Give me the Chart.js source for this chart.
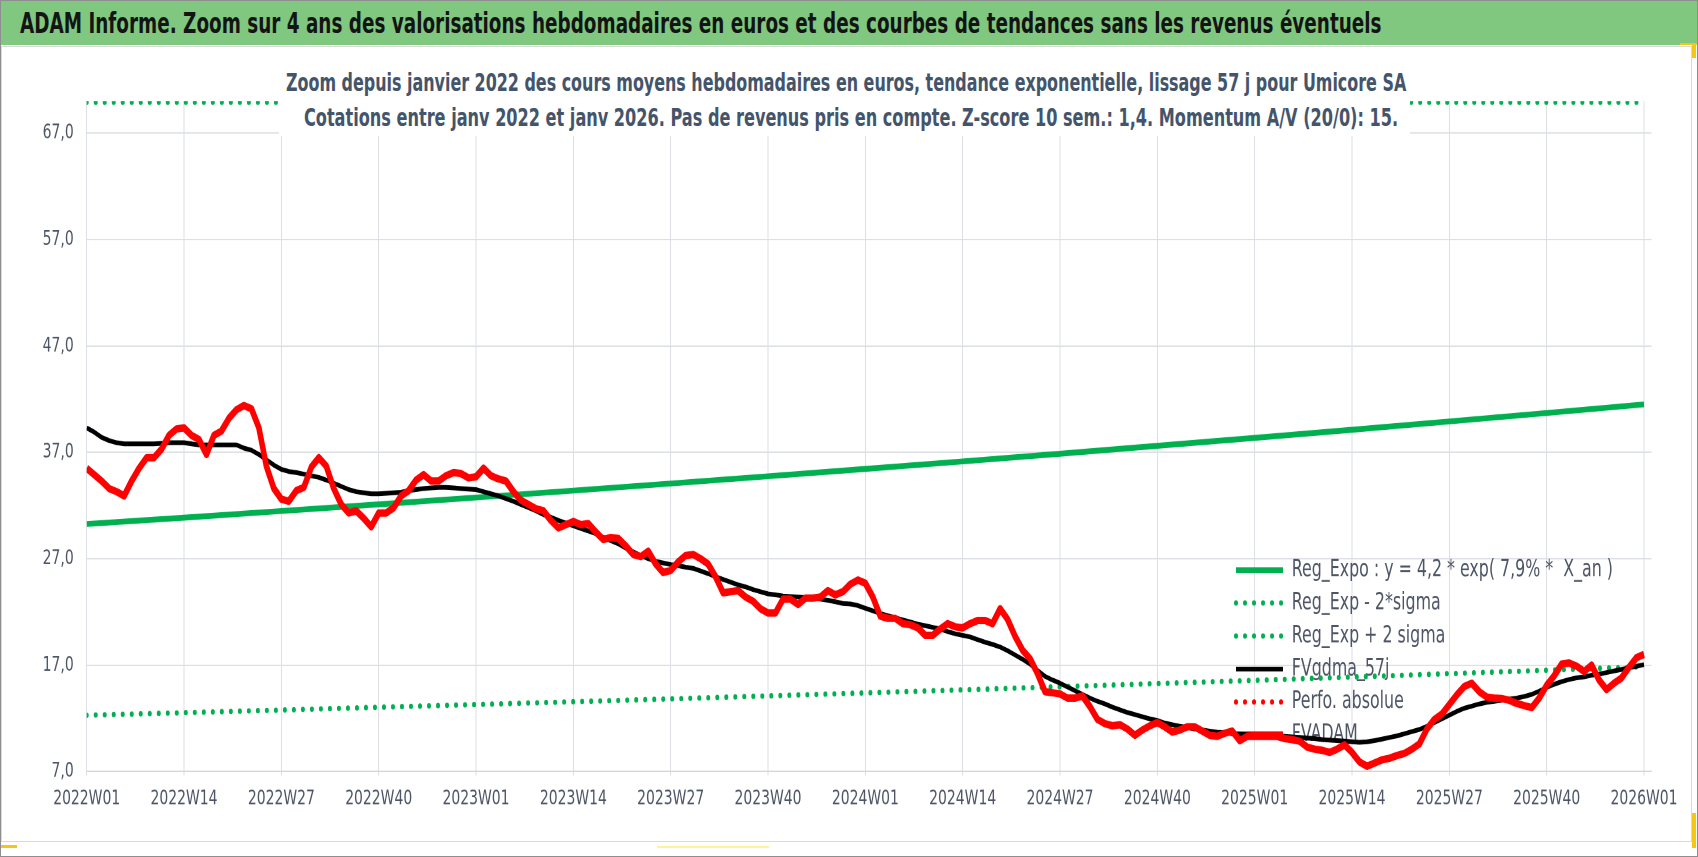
<!DOCTYPE html>
<html lang="fr"><head><meta charset="utf-8">
<script src="https://cdn.jsdelivr.net/npm/chart.js@4.4.1/dist/chart.umd.min.js"></script>
<style>
html,body{margin:0;padding:0;background:#fff;}
#page{position:relative;width:1698px;height:857px;overflow:hidden;background:#fff;}
.abs{position:absolute;}
#outer{left:0;top:0;width:1696px;height:855px;border:1px solid #8e8e8e;}
#chartbox{left:1px;top:46px;width:1689px;height:794px;border:1px solid #d9d9d9;}
#header{left:1px;top:1px;width:1696px;height:44px;background:#80c880;}
#htitle{left:19px;top:23px;transform:translateY(-50%) scaleY(1.4);white-space:nowrap;font-family:'DejaVu Sans Condensed','Liberation Sans Narrow',sans-serif;font-weight:bold;font-size:20px;line-height:1;color:#141414;}
#subbox{left:279px;top:62px;width:1131px;height:74px;background:#fff;}
.sub{white-space:nowrap;font-family:'DejaVu Sans Condensed','Liberation Sans Narrow',sans-serif;font-weight:bold;font-size:16px;line-height:1;color:#44546a;transform:translateY(-50%) scaleY(1.38);}
#c{position:absolute;left:0;top:0;width:1698px;height:857px;}
.y{background:#f5c518;}
</style>
</head><body>
<div id="page">
  <div id="outer" class="abs"></div>
  <div id="chartbox" class="abs"></div>
  <canvas id="c" width="1698" height="635" style="width:1698px;height:857px;"></canvas>
  <div id="header" class="abs"><span id="htitle" class="abs">ADAM Informe. Zoom sur 4 ans des valorisations hebdomadaires en euros et des courbes de tendances sans les revenus éventuels</span></div>
  <div id="subbox" class="abs"></div>
  <div id="sub1" class="abs sub" style="left:286px;top:84px;">Zoom depuis janvier 2022 des cours moyens hebdomadaires en euros, tendance exponentielle, lissage 57 j pour Umicore SA</div>
  <div id="sub2" class="abs sub" style="left:304px;top:118px;">Cotations entre janv 2022 et janv 2026. Pas de revenus pris en compte. Z-score 10 sem.: 1,4. Momentum A/V (20/0): 15.</div>
  <div class="abs y" style="left:1680px;top:43px;width:17px;height:2px;"></div>
  <div class="abs y" style="left:1692px;top:43px;width:4px;height:15px;"></div>
  <div class="abs y" style="left:1692px;top:813px;width:4px;height:35px;"></div>
  <div class="abs y" style="left:1px;top:845px;width:16px;height:3px;"></div>
  <div class="abs" style="left:657px;top:846px;width:112px;height:2px;background:#fff39a;"></div>
</div>
<script>
// ---------- DATA ----------
const xTickWeeks = [0,13,26,39,52,65,78,91,104,117,130,143,156,169,182,195,208];
const xTickLabels = ['2022W01','2022W14','2022W27','2022W40','2023W01','2023W14','2023W27','2023W40',
  '2024W01','2024W14','2024W27','2024W40','2025W01','2025W14','2025W27','2025W40','2026W01'];
const yTicks = [7,17,27,37,47,57,67];

const seriesNames = ['Reg_Expo : y = 4,2 * exp( 7,9% *  X_an )','Reg_Exp - 2*sigma','Reg_Exp + 2 sigma','FVgdma_57j','Perfo. absolue','FVADAM'];

// exponential regression (read every 13 weeks)
const regExpo = [30.26,30.86,31.48,32.11,32.75,33.40,34.07,34.75,35.44,36.15,36.87,37.61,38.36,39.12,39.90,40.70,41.51];
const regMinus2s = [12.29,12.53,12.78,13.04,13.30,13.56,13.83,14.11,14.39,14.68,14.97,15.27,15.57,15.88,16.20,16.52,16.85];
const regPlus2s = [69.9,69.9,69.9,69.9,69.9,69.9,69.9,69.9,69.9,69.9,69.9,69.9,69.9,69.9,69.9,69.9,69.9];

// weekly values, 2022W01 .. 2026W01
const fvgdma57 = [39.3,38.9,38.4,38.1,37.9,37.8,37.8,37.8,37.8,37.8,
37.85,37.9,37.9,37.9,37.8,37.7,37.7,37.7,37.7,37.7,
37.7,37.4,37.2,36.8,36.3,35.8,35.4,35.2,35.1,34.95,
34.8,34.65,34.4,34.1,33.8,33.5,33.3,33.2,33.1,33.1,
33.15,33.2,33.25,33.4,33.5,33.6,33.65,33.7,33.7,33.65,
33.6,33.55,33.5,33.3,33.1,32.9,32.65,32.4,32.1,31.8,
31.5,31.15,30.9,30.6,30.35,30.1,29.85,29.6,29.35,29.0,
28.7,28.4,28.0,27.65,27.3,27.0,26.75,26.6,26.45,26.35,
26.2,26.1,25.85,25.6,25.3,25.05,24.8,24.55,24.35,24.1,
23.9,23.7,23.6,23.5,23.45,23.4,23.35,23.3,23.2,23.1,
22.95,22.8,22.75,22.6,22.35,22.1,21.85,21.65,21.45,21.25,
21.05,20.85,20.7,20.55,20.4,20.15,19.95,19.8,19.65,19.4,
19.15,18.95,18.7,18.35,17.95,17.55,17.1,16.5,15.95,15.6,
15.3,14.95,14.6,14.25,13.9,13.6,13.35,13.05,12.8,12.55,
12.35,12.15,11.95,11.8,11.55,11.4,11.25,11.15,11.0,10.9,
10.8,10.7,10.65,10.55,10.5,10.45,10.4,10.4,10.35,10.3,
10.3,10.25,10.2,10.15,10.1,10.0,9.95,9.9,9.85,9.8,
9.75,9.8,9.9,10.05,10.2,10.35,10.55,10.75,10.95,11.25,
11.6,11.95,12.3,12.65,12.95,13.15,13.35,13.5,13.6,13.7,
13.8,13.9,14.05,14.25,14.55,14.9,15.2,15.45,15.65,15.8,
15.9,16.05,16.15,16.3,16.45,16.6,16.75,16.9,17.05];

const fvadam = [35.5,34.9,34.3,33.6,33.3,32.9,34.3,35.5,36.5,36.5,
37.3,38.6,39.2,39.3,38.6,38.2,36.8,38.6,39.0,40.2,
41.0,41.4,41.1,39.3,35.7,33.6,32.6,32.4,33.4,33.7,
35.6,36.5,35.7,33.6,32.1,31.3,31.5,30.8,30.0,31.3,
31.3,31.8,32.9,33.4,34.4,34.9,34.3,34.3,34.8,35.1,
35.0,34.6,34.7,35.5,34.8,34.5,34.3,33.3,32.5,32.1,
31.7,31.5,30.6,29.9,30.2,30.5,30.2,30.3,29.5,28.8,
29.0,28.9,28.2,27.4,27.2,27.7,26.5,25.7,25.9,26.7,
27.3,27.4,27.0,26.5,25.3,23.8,23.9,24.0,23.4,23.0,
22.3,21.9,21.9,23.2,23.2,22.7,23.3,23.3,23.4,24.0,
23.6,23.9,24.6,25.0,24.7,23.4,21.6,21.4,21.4,20.9,
20.8,20.5,19.8,19.8,20.4,20.9,20.6,20.5,20.9,21.2,
21.2,20.9,22.3,21.3,19.7,18.4,17.6,16.2,14.5,14.4,
14.3,13.9,13.9,14.1,13.1,11.9,11.5,11.3,11.4,11.0,
10.4,10.9,11.3,11.6,11.2,10.7,10.9,11.2,11.2,10.8,
10.4,10.3,10.6,10.8,9.9,10.3,10.3,10.3,10.3,10.3,
10.1,10.0,9.85,9.3,9.1,9.0,8.8,9.1,9.5,8.8,
7.9,7.5,7.8,8.1,8.25,8.5,8.7,9.1,9.6,11.0,
11.9,12.4,13.3,14.2,15.0,15.3,14.5,14.0,13.9,13.85,
13.7,13.4,13.2,13.0,13.9,15.1,16.0,17.1,17.2,16.9,
16.4,17.0,15.6,14.7,15.3,15.8,16.8,17.7,18.0];

const perfoAbsolue = [];

// ---------- TEXT FITTING (layout only) ----------
function fitWidth(el, target) {
  const w = el.getBoundingClientRect().width;
  const fs = parseFloat(getComputedStyle(el).fontSize);
  el.style.fontSize = (fs * target / w) + 'px';
}
fitWidth(document.getElementById('htitle'), 1362);
fitWidth(document.getElementById('sub1'), 1121);
fitWidth(document.getElementById('sub2'), 1095);

// ---------- CHART ----------
// The canvas is drawn at 1698x635 and displayed stretched to 1698x857 (vertical stretch like the reference picture).
const CANVAS_H = 635, PAGE_H = 857, K = PAGE_H / CANVAS_H;
const FONT = "'DejaVu Sans Condensed','Liberation Sans Narrow',sans-serif";
const GREEN = '#00b050';
const TEXT = '#4d5566';
const toXY = (xs, ys) => ys.map((v, i) => ({x: xs[i], y: v}));
const weekly = ys => ys.map((v, i) => ({x: i, y: v}));

const PLOT = {left: 86.7, right: 1651.5, top: 101.2 / K, bottom: 771.5 / K};
const LEG = {x: 1236, firstRowY: 570 / K, font: 17.6, rowH: 33 / K, box: 47};
LEG.pad = LEG.rowH - LEG.font;

const legendPlacer = {
  id: 'legendPlacer',
  afterLayout(chart) {
    const lg = chart.legend;
    if (!lg) return;
    const w = lg.width, h = lg.height;
    lg.left = LEG.x - LEG.pad;
    lg.top = LEG.firstRowY - LEG.pad - LEG.font / 2;
    lg.right = lg.left + w; lg.bottom = lg.top + h;
  }
};

const datasets = [
  {label: seriesNames[0], data: toXY(xTickWeeks, regExpo), borderColor: GREEN, borderWidth: 4.3, borderCapStyle: 'butt', order: 3},
  {label: seriesNames[1], data: toXY(xTickWeeks, regMinus2s), borderColor: GREEN, borderWidth: 4, borderDash: [0.01, 9], borderCapStyle: 'round', order: 4},
  {label: seriesNames[2], data: toXY(xTickWeeks, regPlus2s), borderColor: GREEN, borderWidth: 4, borderDash: [0.01, 9], borderCapStyle: 'round', order: 4},
  {label: seriesNames[3], data: weekly(fvgdma57), borderColor: '#000000', borderWidth: 3.5, borderCapStyle: 'butt', borderJoinStyle: 'round', order: 2},
  {label: seriesNames[4], data: perfoAbsolue, borderColor: '#ff0000', borderWidth: 4, borderDash: [0.01, 9], borderCapStyle: 'round', order: 1},
  {label: seriesNames[5], data: weekly(fvadam), borderColor: '#ff0000', borderWidth: 5.5, borderCapStyle: 'butt', borderJoinStyle: 'round', order: 0}
];
datasets.forEach(d => { d.pointRadius = 0; d.pointHoverRadius = 0; d.tension = 0; d.fill = false; d.backgroundColor = d.borderColor; });

new Chart(document.getElementById('c'), {
  type: 'line',
  data: {datasets},
  plugins: [legendPlacer],
  options: {
    responsive: false,
    animation: false,
    devicePixelRatio: 2,
    layout: {padding: {left: 0, top: PLOT.top, right: 1698 - PLOT.right, bottom: 0}},
    plugins: {
      title: {display: false},
      tooltip: {enabled: false},
      legend: {
        display: true,
        position: 'chartArea',
        align: 'start',
        labels: {
          usePointStyle: true,
          pointStyleWidth: LEG.box,
          padding: LEG.pad,
          color: TEXT,
          font: {family: FONT, size: LEG.font},
          generateLabels: chart => chart.data.datasets.map((d, i) => ({
            text: d.label,
            fillStyle: 'rgba(0,0,0,0)',
            strokeStyle: d.borderColor,
            lineWidth: d.borderWidth,
            lineDash: d.borderDash || [],
            lineCap: d.borderCapStyle || 'butt',
            pointStyle: 'line',
            fontColor: TEXT,
            hidden: false,
            datasetIndex: i
          }))
        }
      }
    },
    scales: {
      x: {
        type: 'linear',
        min: 0,
        max: 209,
        afterFit: s => { s.height = CANVAS_H - PLOT.bottom; },
        afterBuildTicks: s => { s.ticks = xTickWeeks.map(v => ({value: v})); },
        grid: {color: '#dcdfe4', lineWidth: 1, drawTicks: true, tickLength: 3, tickColor: '#dcdfe4'},
        border: {display: true, color: '#d2d5da', width: 1},
        ticks: {
          autoSkip: false, maxRotation: 0, minRotation: 0, padding: 8,
          color: TEXT, font: {family: FONT, size: 15.5},
          callback: (v, i) => xTickLabels[i]
        }
      },
      y: {
        type: 'linear',
        min: 7,
        max: 70,
        afterFit: s => { s.width = PLOT.left; },
        afterBuildTicks: s => { s.ticks = yTicks.map(v => ({value: v})); },
        grid: {color: '#dcdfe4', lineWidth: 1, drawTicks: false},
        border: {display: true, color: '#dcdfe4', width: 1},
        ticks: {
          padding: 13,
          color: TEXT, font: {family: FONT, size: 15.5},
          callback: v => Number(v).toFixed(1).replace('.', ',')
        }
      }
    }
  }
});
</script>
</body></html>
